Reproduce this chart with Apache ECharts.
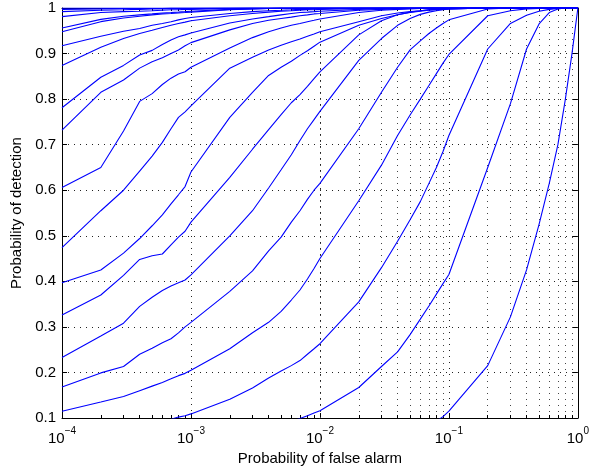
<!DOCTYPE html>
<html><head><meta charset="utf-8">
<script src="https://cdn.jsdelivr.net/npm/echarts/dist/echarts.min.js"></script>
<style>html,body{margin:0;padding:0;background:#fff}#c{width:592px;height:471px}</style>
</head><body><div id="c"></div>
<script>
// Probability of false alarm sample points (1..9 per decade)
const pfa = [
  1e-4,2e-4,3e-4,4e-4,5e-4,6e-4,7e-4,8e-4,9e-4,
  1e-3,2e-3,3e-3,4e-3,5e-3,6e-3,7e-3,8e-3,9e-3,
  1e-2,2e-2,3e-2,4e-2,5e-2,6e-2,7e-2,8e-2,9e-2,
  0.1,0.2,0.3,0.4,0.5,0.6,0.7,0.8,0.9,
  1];
// Probability of detection, one array per curve (top to bottom)
const pd01 = [1,1,1,1,1,1,1,1,1, 1,1,1,1,1,1,1,1,1, 1,1,1,1,1,1,1,1,1, 1,1,1,1,1,1,1,1,1, 1];
const pd02 = [0.997,0.998,0.999,0.999,0.999,0.999,1,1,1, 1,1,1,1,1,1,1,1,1, 1,1,1,1,1,1,1,1,1, 1,1,1,1,1,1,1,1,1, 1];
const pd03 = [0.992,0.995,0.996,0.997,0.998,0.998,0.999,0.999,0.999, 0.999,1,1,1,1,1,1,1,1, 1,1,1,1,1,1,1,1,1, 1,1,1,1,1,1,1,1,1, 1];
const pd04 = [0.981,0.990,0.992,0.993,0.994,0.995,0.996,0.996,0.997, 0.997,0.999,1,1,1,1,1,1,1, 1,1,1,1,1,1,1,1,1, 1,1,1,1,1,1,1,1,1, 1];
const pd05 = [0.956,0.975,0.982,0.985,0.987,0.989,0.990,0.991,0.992, 0.993,0.997,0.998,0.999,1,1,1,1,1, 1,1,1,1,1,1,1,1,1, 1,1,1,1,1,1,1,1,1, 1];
const pd06 = [0.948,0.970,0.978,0.982,0.985,0.987,0.988,0.989,0.990, 0.991,0.996,0.998,0.999,1,1,1,1,1, 1,1,1,1,1,1,1,1,1, 1,1,1,1,1,1,1,1,1, 1];
const pd07 = [0.917,0.938,0.949,0.955,0.962,0.966,0.970,0.974,0.977, 0.979,0.988,0.992,0.994,0.995,0.996,0.997,0.997,0.998, 0.998,1,1,1,1,1,1,1,1, 1,1,1,1,1,1,1,1,1, 1];
const pd08 = [0.874,0.914,0.933,0.944,0.951,0.957,0.962,0.966,0.969, 0.972,0.983,0.988,0.991,0.993,0.994,0.995,0.996,0.996, 0.997,0.999,1,1,1,1,1,1,1, 1,1,1,1,1,1,1,1,1, 1];
const pd09 = [0.781,0.848,0.874,0.897,0.907,0.920,0.930,0.937,0.941, 0.945,0.967,0.976,0.981,0.985,0.988,0.990,0.991,0.992, 0.993,0.997,0.999,1,1,1,1,1,1, 1,1,1,1,1,1,1,1,1, 1];
const pd10 = [0.732,0.815,0.842,0.868,0.882,0.891,0.900,0.908,0.917, 0.924,0.952,0.966,0.973,0.977,0.980,0.983,0.985,0.987, 0.988,0.995,0.997,0.998,0.999,1,1,1,1, 1,1,1,1,1,1,1,1,1, 1];
const pd11 = [0.606,0.650,0.730,0.795,0.812,0.832,0.846,0.855,0.860, 0.870,0.912,0.935,0.948,0.956,0.962,0.966,0.970,0.973, 0.976,0.990,0.995,0.997,0.998,0.999,1,1,1, 1,1,1,1,1,1,1,1,1, 1];
const pd12 = [0.474,0.555,0.600,0.642,0.675,0.705,0.735,0.760,0.772, 0.785,0.868,0.892,0.908,0.918,0.926,0.932,0.938,0.943, 0.948,0.970,0.983,0.989,0.992,0.994,0.996,0.997,0.998, 0.998,1,1,1,1,1,1,1,1, 1];
const pd13 = [0.397,0.425,0.462,0.494,0.522,0.546,0.570,0.590,0.608, 0.640,0.760,0.815,0.852,0.870,0.883,0.896,0.906,0.916, 0.925,0.962,0.977,0.985,0.990,0.993,0.995,0.996,0.997, 0.998,1,1,1,1,1,1,1,1, 1];
const pd14 = [0.326,0.370,0.413,0.448,0.456,0.460,0.480,0.497,0.510, 0.530,0.628,0.690,0.733,0.766,0.792,0.810,0.828,0.845, 0.860,0.941,0.972,0.985,0.991,0.994,0.996,0.997,0.998, 0.999,1,1,1,1,1,1,1,1, 1];
const pd15 = [0.233,0.280,0.308,0.345,0.365,0.380,0.390,0.397,0.403, 0.414,0.500,0.555,0.605,0.645,0.678,0.709,0.735,0.755, 0.773,0.885,0.933,0.962,0.977,0.986,0.991,0.994,0.996, 0.998,1,1,1,1,1,1,1,1, 1];
const pd16 = [0.168,0.199,0.213,0.240,0.253,0.265,0.274,0.287,0.300, 0.310,0.378,0.423,0.467,0.497,0.530,0.555,0.580,0.600, 0.615,0.735,0.815,0.870,0.908,0.928,0.944,0.956,0.966, 0.974,0.998,1,1,1,1,1,1,1, 1];
const pd17 = [0.115,0.135,0.147,0.160,0.170,0.178,0.186,0.193,0.198, 0.205,0.252,0.287,0.310,0.334,0.359,0.381,0.405,0.428, 0.450,0.577,0.655,0.720,0.765,0.800,0.830,0.856,0.879, 0.898,0.983,0.994,0.998,0.999,1,1,1,1, 1];
const pd18 = [null,null,null,null,null,0.092,0.097,0.102,0.105, 0.109,0.141,0.166,0.188,0.203,0.215,0.226,0.240,0.252, 0.263,0.355,0.430,0.488,0.535,0.575,0.615,0.650,0.685, 0.720,0.910,0.966,0.984,0.993,0.997,0.999,1,1, 1];
const pd19 = [null,null,null,null,null,null,null,null,null, null,null,null,null,null,0.092,0.099,0.105,0.111, 0.116,0.167,0.213,0.245,0.283,0.317,0.346,0.372,0.395, 0.415,0.650,0.790,0.910,0.965,0.990,0.998,1,1, 1];
const pd20 = [null,null,null,null,null,null,null,null,null, null,null,null,null,null,null,null,null,null, null,null,null,null,null,null,null,0.093,0.103, 0.115,0.215,0.322,0.425,0.525,0.615,0.700,0.800,0.900, 1];
const curves = [pd01,pd02,pd03,pd04,pd05,pd06,pd07,pd08,pd09,pd10,pd11,pd12,pd13,pd14,pd15,pd16,pd17,pd18,pd19,pd20];

// Axis settings
const xDecades = [1e-4,1e-3,1e-2,1e-1,1];
const yMin = 0.1, yMax = 1, yStep = 0.1;
const xTitle = 'Probability of false alarm';
const yTitle = 'Probability of detection';

const minorX = [];
for (let i = 0; i < xDecades.length - 1; i++) for (let m = 2; m <= 9; m++) minorX.push(xDecades[i] * m);

const FONT = '"Liberation Sans", Arial, Helvetica, sans-serif';
const chart = echarts.init(document.getElementById('c'), null, {renderer: 'canvas'});
const gridLine = {color: '#222', width: 1, type: [1, 5]};
const minorLine = {color: '#444', width: 1, type: [1, 5]};

function supLabel(v) {
  const e = Math.round(Math.log10(v));
  return '{b|10}{e|' + (e < 0 ? '\u2212' + (-e) : String(e)) + '}';
}

const series = curves.map(arr => ({
  type: 'line',
  data: pfa.map((x, i) => [x, arr[i]]).filter(p => p[1] != null),
  showSymbol: false, symbol: 'none', silent: true, clip: true,
  lineStyle: {color: '#0000ff', width: 1.1},
  z: 5
}));

// minor vertical dotted grid lines and minor ticks (bottom & top)
const tickLen = 3 / 455.6;
series.push({
  type: 'line', data: [], silent: true, z: 1,
  markLine: {
    silent: true, symbol: ['none', 'none'], animation: false,
    label: {show: false}, lineStyle: minorLine,
    data: minorX.map(v => ({xAxis: v}))
  }
});
series.push({
  type: 'line', data: [], silent: true, z: 6,
  markLine: {
    silent: true, symbol: ['none', 'none'], animation: false,
    label: {show: false}, lineStyle: {color: '#000', width: 1, type: 'solid'},
    data: minorX.map(v => [{coord: [v, yMin]}, {coord: [v, yMin + tickLen]}])
      .concat(minorX.map(v => [{coord: [v, yMax]}, {coord: [v, yMax - tickLen]}]))
  }
});

chart.setOption({
  animation: false,
  backgroundColor: '#fff',
  textStyle: {fontFamily: FONT, color: '#000'},
  grid: {left: 62, right: 9, top: 8, bottom: 53, containLabel: false},
  xAxis: [{
    type: 'log', logBase: 10, min: xDecades[0], max: xDecades[xDecades.length - 1],
    position: 'bottom',
    name: xTitle, nameLocation: 'middle', nameGap: 31,
    nameTextStyle: {fontSize: 15, fontFamily: FONT, color: '#000'},
    axisLine: {show: true, onZero: false, lineStyle: {color: '#000', width: 1}},
    axisTick: {show: true, inside: true, length: 5, lineStyle: {color: '#000'}},
    axisLabel: {
      show: true, margin: 8, formatter: supLabel, showMinLabel: true, showMaxLabel: true,
      rich: {
        b: {fontSize: 15, fontFamily: FONT, color: '#000', lineHeight: 20, verticalAlign: 'bottom'},
        e: {fontSize: 10, fontFamily: FONT, color: '#000', lineHeight: 20, verticalAlign: 'top'}
      }
    },
    splitLine: {show: true, lineStyle: gridLine},
    minorTick: {show: false}, minorSplitLine: {show: false}
  }, {
    type: 'log', logBase: 10, min: xDecades[0], max: xDecades[xDecades.length - 1],
    position: 'top',
    axisLine: {show: true, onZero: false, lineStyle: {color: '#000', width: 1}},
    axisTick: {show: true, inside: true, length: 5, lineStyle: {color: '#000'}},
    axisLabel: {show: false}, splitLine: {show: false}
  }],
  yAxis: [{
    type: 'value', min: yMin, max: yMax, interval: yStep,
    name: yTitle, nameLocation: 'middle', nameGap: 35, nameRotate: 90,
    nameTextStyle: {fontSize: 15, fontFamily: FONT, color: '#000'},
    axisLine: {show: true, onZero: false, lineStyle: {color: '#000', width: 1}},
    axisTick: {show: true, inside: true, length: 5, lineStyle: {color: '#000'}},
    axisLabel: {fontSize: 15, fontFamily: FONT, color: '#000', margin: 6,
      formatter: v => String(Math.round(v * 10) / 10)},
    splitLine: {show: true, lineStyle: gridLine}
  }, {
    type: 'value', min: yMin, max: yMax, interval: yStep, position: 'right',
    axisLine: {show: true, onZero: false, lineStyle: {color: '#000', width: 1}},
    axisTick: {show: true, inside: true, length: 5, lineStyle: {color: '#000'}},
    axisLabel: {show: false}, splitLine: {show: false}
  }],
  series: series
});
</script>
</body></html>
